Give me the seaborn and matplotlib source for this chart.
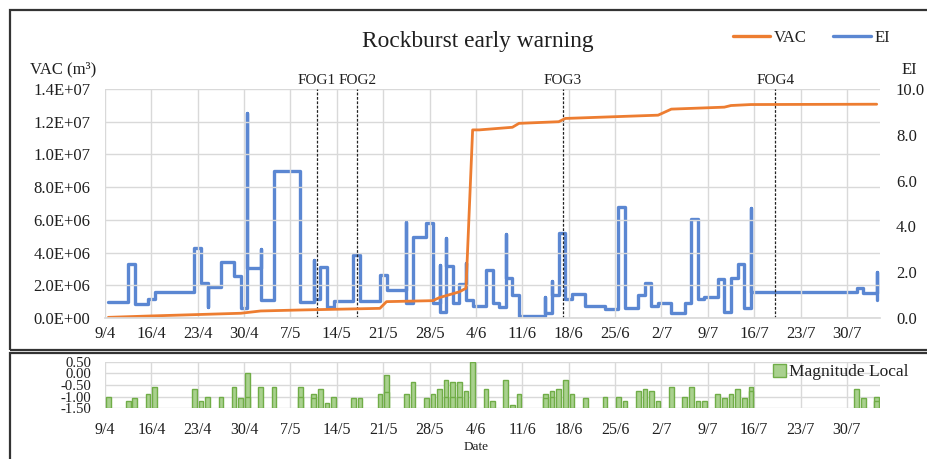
import numpy as np
import pandas as pd
import matplotlib
matplotlib.use("Agg")
import matplotlib.pyplot as plt
import matplotlib.transforms as mtransforms
import seaborn as sns
from matplotlib.ticker import FuncFormatter, FixedLocator, MultipleLocator
from matplotlib.lines import Line2D
from matplotlib.patches import Patch, Rectangle

sns.set_theme(style="white")
plt.rcParams["font.family"] = ["Liberation Serif", "DejaVu Serif"]

# ---- data (x = days since 9 April) ----
date_labels = ["9/4", "16/4", "23/4", "30/4", "7/5", "14/5", "21/5", "28/5",
               "4/6", "11/6", "18/6", "25/6", "2/7", "9/7", "16/7", "23/7", "30/7"]

vac_days = [0, 6, 20, 23, 29, 41, 42, 49, 50, 53, 54, 55, 56, 61, 62, 68, 69,
            83, 85, 93, 94, 97, 116]
vac_m3 = [0.04e6, 0.12e6, 0.29e6, 0.43e6, 0.49e6, 0.59e6, 1.00e6, 1.06e6, 1.25e6,
          1.60e6, 1.82e6, 11.50e6, 11.50e6, 11.66e6, 11.90e6, 12.00e6, 12.20e6,
          12.40e6, 12.77e6, 12.89e6, 12.99e6, 13.05e6, 13.07e6]

ei_days = [0, 3, 4, 6, 7, 13, 14, 15, 15, 17, 19, 20, 21, 21, 23, 23, 25, 29,
           31, 31, 32, 33, 34, 37, 38, 41, 42, 45, 45, 46, 48, 49, 50, 50, 51, 51,
           52, 53, 54, 54, 55, 57, 58, 59, 60, 60, 61, 62, 66, 66, 67, 67, 68, 69,
           70, 72, 75, 77, 78, 80, 81, 82, 83, 85, 87, 88, 89, 90, 92, 93, 94, 95,
           96, 97, 97, 113, 114, 116, 116]
ei_values = [0.70, 2.36, 0.61, 0.83, 1.12, 3.04, 1.54, 0.48, 1.37, 2.43, 1.83, 0.42,
             8.97, 2.17, 3.00, 0.79, 6.43, 0.71, 2.53, 0.81, 2.24, 0.50, 0.74, 2.75,
             0.74, 1.88, 1.22, 4.20, 0.67, 3.55, 4.13, 0.64, 2.31, 0.28, 3.48, 2.27,
             0.67, 1.48, 2.39, 0.79, 0.52, 2.10, 0.64, 0.47, 3.67, 1.73, 1.00, 0.10,
             0.93, 0.20, 1.62, 1.00, 3.70, 0.82, 1.03, 0.52, 0.39, 4.86, 0.45, 1.00,
             1.54, 0.52, 0.67, 0.20, 0.67, 4.31, 0.82, 0.93, 1.69, 0.28, 1.76, 2.36,
             0.42, 4.79, 1.12, 1.32, 1.08, 2.02, 0.79]

mag_days = [0, 3, 4, 6, 7, 13, 14, 15, 17, 19, 20, 21, 21, 23, 25, 29, 29, 31, 31,
            32, 33, 34, 37, 38, 41, 42, 42, 45, 46, 48, 49, 50, 51, 51, 52, 52, 53,
            53, 54, 55, 57, 58, 60, 61, 62, 66, 66, 67, 67, 68, 69, 70, 72, 75, 77,
            78, 80, 81, 82, 83, 85, 87, 88, 89, 90, 92, 93, 94, 95, 96, 97, 97,
            113, 114, 116, 116]
mag_values = [-1.00, -1.17, -1.07, -0.87, -0.57, -0.69, -1.17, -1.00, -1.00, -0.57,
              -1.07, 0.00, -1.00, -0.57, -0.57, -0.57, -1.00, -0.87, -1.07, -0.69,
              -1.27, -1.00, -1.07, -1.07, -0.87, -0.09, -0.79, -0.87, -0.39, -1.07,
              -0.87, -0.69, -0.29, -1.00, -0.39, -1.00, -0.39, -1.00, -0.77, 0.50,
              -0.69, -1.17, -0.29, -1.37, -0.87, -0.87, -1.07, -0.77, -1.00, -0.69,
              -0.29, -0.87, -1.07, -1.00, -1.00, -1.17, -0.77, -0.69, -0.77, -1.17,
              -0.57, -1.00, -0.57, -1.17, -1.17, -0.87, -1.07, -0.87, -0.69, -1.07,
              -0.57, -0.77, -0.69, -1.07, -1.00, -1.20]

fog_names = ["FOG1", "FOG2", "FOG3", "FOG4"]
fog_days = [32.0, 38.1, 69.1, 101.2]

# ---- styling ----
ORANGE = "#ed7d31"
BLUE = "#5b87d2"
GREEN_FILL = "#a9d18e"
GREEN_EDGE = "#70ad47"
GRID = "#d9d9d9"
TEXT = "#1f1f1f"

W, H = 928, 459
fig = plt.figure(figsize=(W / 100, H / 100), dpi=100)


def box(left, top, right, bottom):
    return [left / W, 1 - bottom / H, (right - left) / W, (bottom - top) / H]


ax = fig.add_axes(box(105, 89, 880, 318))
ax2 = ax.twinx()
axm = fig.add_axes(box(105, 361.7, 880, 408.3))

# each record sits in the middle of its day slot
vac_df = pd.DataFrame({"x": np.array(vac_days) + 0.5, "VAC": vac_m3})
ei_df = pd.DataFrame({"x": np.array(ei_days) + 0.5, "EI": ei_values})

sns.lineplot(data=ei_df, x="x", y="EI", ax=ax2, color=BLUE, lw=2.4,
             sort=False, estimator=None, errorbar=None, drawstyle="steps-post")
sns.lineplot(data=vac_df, x="x", y="VAC", ax=ax, color=ORANGE, lw=2.0,
             sort=False, estimator=None, errorbar=None)
ax.set_zorder(ax2.get_zorder() + 1)
ax.patch.set_visible(False)

xmax = 117.0
tick_pos = np.arange(len(date_labels)) * 7
for a in (ax, axm):
    a.set_xlim(0, xmax)
    a.xaxis.set_major_locator(FixedLocator(tick_pos))
    a.set_xticklabels(date_labels)
    a.grid(True, color=GRID, lw=1)
    a.set_axisbelow(True)
    for s in a.spines.values():
        s.set_visible(False)
    a.set_xlabel("")
    a.set_ylabel("")
for s in ax2.spines.values():
    s.set_visible(False)

ax.spines["bottom"].set_visible(True)
ax.spines["bottom"].set_color(GRID)
ax.xaxis.set_minor_locator(MultipleLocator(1))
ax.tick_params(axis="x", which="major", length=3, color=GRID, pad=3,
               labelsize=12, labelcolor=TEXT)
ax.tick_params(axis="x", which="minor", direction="in", length=3, color="#c8c8c8",
               width=0.8)

ax.set_ylim(0, 1.4e7)
ax.set_yticks(np.arange(0, 1.41e7, 2e6))
ax.yaxis.set_major_formatter(FuncFormatter(lambda v, p: f"{v:.1E}"))
ax.tick_params(axis="y", length=0, pad=10.5, labelsize=12, labelcolor=TEXT)

ax2.set_ylim(0, 10)
ax2.set_yticks(np.arange(0, 10.1, 2))
ax2.yaxis.set_major_formatter(FuncFormatter(lambda v, p: f"{v:.1f}"))
ax2.tick_params(axis="y", length=0, pad=11.5, labelsize=12, labelcolor=TEXT)
ax2.grid(False)
ax2.set_ylabel("")

# FOG markers
trans = mtransforms.blended_transform_factory(ax.transData, ax.transAxes)
for name, d in zip(fog_names, fog_days):
    ax.axvline(d, color="#222222", lw=0.9, ls=(0, (2.2, 1.3)), zorder=1)
    ax.text(d, 1.039, name, transform=trans, ha="center", va="center",
            fontsize=11, color=TEXT)

# magnitude panel
axm.bar(np.array(mag_days) + 0.5, np.array(mag_values) + 1.5, bottom=-1.5,
        width=0.7, color=GREEN_FILL, edgecolor=GREEN_EDGE, linewidth=1.0, zorder=3)
axm.set_ylim(-1.5, 0.5)
axm.set_yticks(np.arange(-1.5, 0.51, 0.5))
axm.yaxis.set_major_formatter(FuncFormatter(lambda v, p: f"{v:.2f}"))
axm.tick_params(axis="y", length=0, pad=10.0, labelsize=10.6, labelcolor=TEXT)
axm.tick_params(axis="x", length=3, color=GRID, pad=7, labelsize=11.5,
                labelcolor=TEXT)

# texts
fig.text(477.5 / W, 1 - 41 / H, "Rockburst early warning", ha="center", va="center",
         fontsize=16.8, color=TEXT)
fig.text(63 / W, 1 - 69 / H, "VAC (m³)", ha="center", va="center", fontsize=12,
         color=TEXT)
fig.text(909 / W, 1 - 70 / H, "EI", ha="center", va="center", fontsize=12,
         color=TEXT)
fig.text(476 / W, 1 - 447 / H, "Date", ha="center", va="center", fontsize=9.5,
         color=TEXT)

# legends
handles = [Line2D([], [], color=ORANGE, lw=2.4), Line2D([], [], color=BLUE, lw=2.4)]
fig.legend(handles, ["VAC", "EI"], ncol=2, loc="center left",
           bbox_to_anchor=(733 / W, 1 - 38 / H), frameon=False, fontsize=12,
           handlelength=2.25, handletextpad=0.2, columnspacing=1.6,
           borderpad=0, borderaxespad=0, labelcolor=TEXT)
fig.legend([Patch(facecolor=GREEN_FILL, edgecolor=GREEN_EDGE, lw=1.0)],
           ["Magnitude Local"], loc="center left",
           bbox_to_anchor=(773 / W, 1 - 372 / H), frameon=False, fontsize=12.5,
           handlelength=0.75, handleheight=0.75, handletextpad=0.15,
           borderpad=0, borderaxespad=0, labelcolor=TEXT)

# outer frames of the two panels
fig.add_artist(Rectangle((10 / W, 1 - 350 / H), 940 / W, 340 / H,
                         transform=fig.transFigure, fill=False, ec="#333333",
                         lw=1.6))
fig.add_artist(Rectangle((10 / W, 1 - 480 / H), 940 / W, 127 / H,
                         transform=fig.transFigure, fill=False, ec="#333333",
                         lw=1.6))

fig.savefig("out.png", dpi=100)
